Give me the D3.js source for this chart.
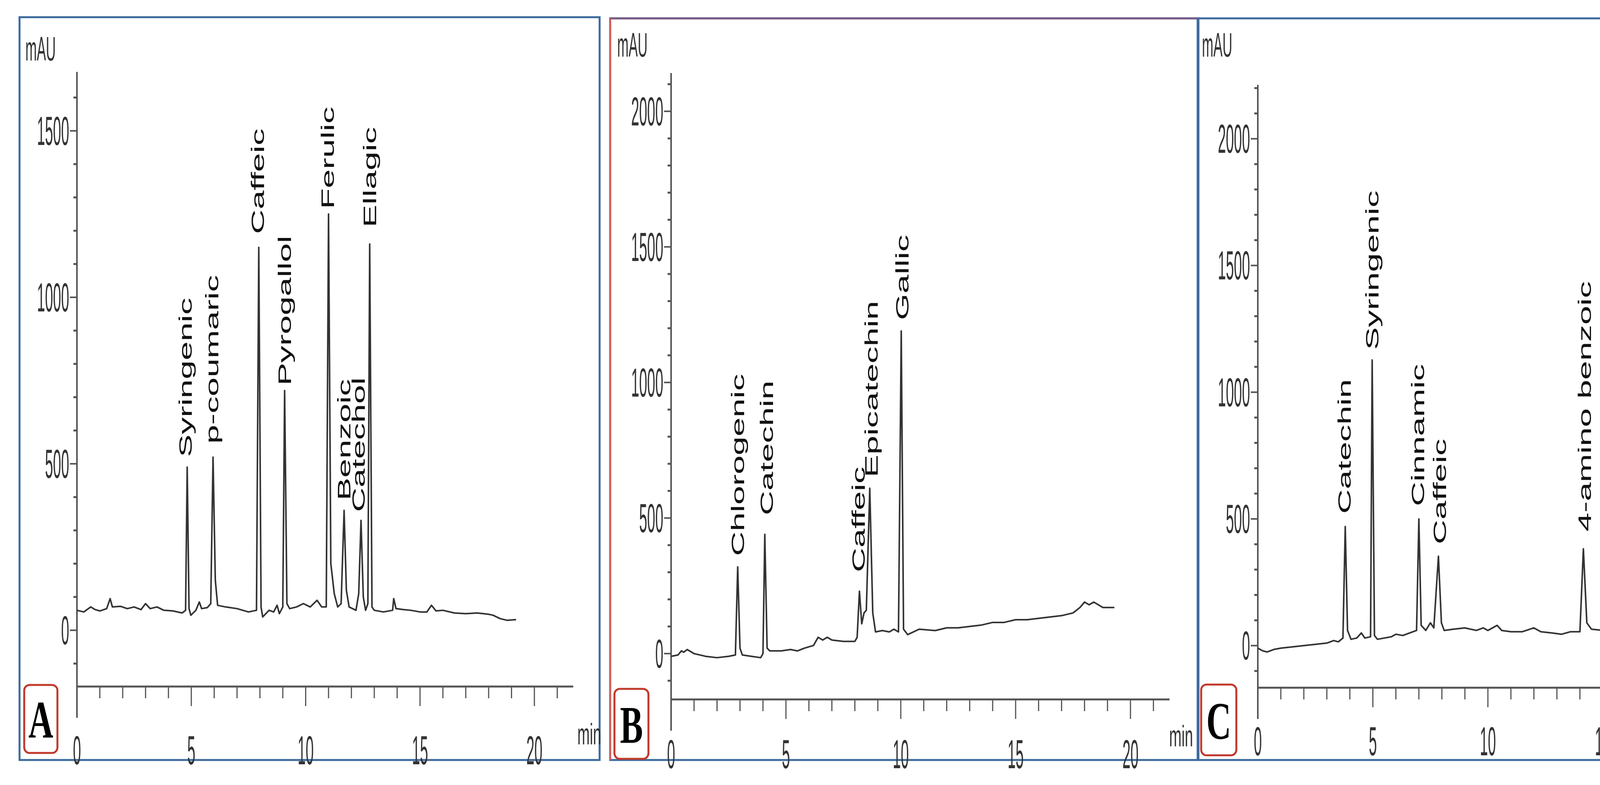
<!DOCTYPE html>
<html><head><meta charset="utf-8">
<script src="https://cdn.jsdelivr.net/npm/d3@7"></script>
<style>body{margin:0;background:#fff}</style></head>
<body><svg id="c" width="4631" height="2009"></svg>
<script>
// ---------- DATA ----------
const xTicksMajor = [0, 5, 10, 15, 20];
const panelLetters = ["A", "B", "C"];

const traceA = [[0,60],[0.3,55],[0.6,70],[0.8,62],[1.0,58],[1.3,65],[1.45,95],[1.55,70],[1.9,72],[2.2,65],[2.5,70],[2.8,62],[3.0,80],[3.2,65],[3.5,70],[3.8,60],[4.2,58],[4.6,52],[4.75,60],[4.82,490],[4.9,65],[4.98,45],[5.2,60],[5.35,85],[5.45,65],[5.7,68],[5.85,80],[5.95,520],[6.05,150],[6.15,75],[6.5,70],[7.0,65],[7.5,55],[7.85,60],[7.95,1150],[8.05,70],[8.12,40],[8.4,60],[8.6,55],[8.75,75],[8.85,50],[9.0,70],[9.08,720],[9.18,80],[9.3,65],[9.6,70],[9.9,80],[10.2,70],[10.5,90],[10.7,70],[10.9,70],[11.0,1250],[11.1,200],[11.25,110],[11.4,70],[11.55,80],[11.68,360],[11.78,120],[11.9,70],[12.2,60],[12.32,110],[12.42,330],[12.52,100],[12.62,60],[12.72,80],[12.8,1160],[12.9,70],[13.0,60],[13.4,55],[13.8,60],[13.85,95],[13.95,65],[14.3,62],[14.6,60],[15.0,55],[15.3,55],[15.5,75],[15.7,58],[16.0,60],[16.5,52],[17.0,50],[17.5,52],[18.0,48],[18.2,45],[18.5,35],[18.8,30],[19.2,32]];
const labelsA = [["Syringenic",4.78,520],["p-coumaric",5.95,560],["Caffeic",7.95,1190],["Pyrogallol",9.12,735],["Ferulic",11.0,1265],["Benzoic",11.72,390],["Catechol",12.35,355],["Ellagic",12.85,1210]];

const traceB = [[0,-10],[0.3,-5],[0.45,10],[0.55,5],[0.7,15],[1.0,0],[1.5,-10],[2.0,-15],[2.5,-10],[2.8,-5],[2.9,320],[3.0,20],[3.1,-5],[3.5,-10],[3.9,-15],[4.0,0],[4.08,440],[4.18,20],[4.3,10],[4.8,10],[5.2,15],[5.5,10],[5.8,20],[6.2,30],[6.4,60],[6.6,50],[6.8,60],[7.0,50],[7.5,45],[8.0,45],[8.1,60],[8.2,230],[8.3,110],[8.4,150],[8.5,160],[8.65,610],[8.78,150],[8.9,80],[9.2,85],[9.5,80],[9.7,90],[9.9,80],[10.02,1190],[10.12,90],[10.3,70],[10.8,90],[11.5,85],[12.0,95],[12.5,95],[13.0,100],[13.5,105],[14.0,115],[14.5,115],[15.0,125],[15.5,125],[16.0,130],[16.5,135],[17.0,140],[17.5,150],[17.8,170],[18.0,190],[18.2,180],[18.4,190],[18.8,170],[19.3,170]];
const labelsB = [["Chlorogenic",2.95,360],["Catechin",4.2,510],["Caffeic",8.2,300],["Epicatechin",8.75,650],["Gallic",10.1,1230]];

const traceC = [[0,-10],[0.2,-20],[0.4,-25],[0.7,-15],[1.0,-10],[1.5,-5],[2.0,0],[2.5,5],[3.0,10],[3.3,20],[3.5,15],[3.7,30],[3.8,470],[3.9,60],[4.05,25],[4.3,30],[4.5,50],[4.65,30],[4.9,35],[4.97,1127],[5.07,40],[5.2,25],[5.5,30],[5.8,35],[6.0,45],[6.3,40],[6.6,50],[6.9,60],[7.0,500],[7.1,80],[7.3,60],[7.5,90],[7.65,70],[7.85,353],[7.98,90],[8.1,60],[8.5,65],[9.0,70],[9.5,60],[9.8,70],[10.0,60],[10.4,80],[10.6,60],[11.0,55],[11.5,55],[12.0,70],[12.3,55],[12.8,50],[13.2,45],[13.6,55],[14.0,55],[14.15,382],[14.3,90],[14.5,65],[15.0,60],[15.5,55],[15.7,75],[15.9,55],[16.3,60],[17.0,50],[17.5,50],[18.3,45]];
const labelsC = [["Catechin",3.8,520],["Syringenic",5.0,1167],["Cinnamic",7.0,550],["Caffeic",7.95,400],["4-amino benzoic",14.25,450]];

const yTicksA = [0, 500, 1000, 1500];
const yTicksBC = [0, 500, 1000, 1500, 2000];

// ---------- LAYOUT ----------
const svg = d3.select("#c");
const panels = [
  {trace:traceA, labels:labelsA, yt:yTicksA, ydom:[-169,1677], xl:197, xr:1368, yTop:184, yBot:1757,
   frame:[50,44,1535,1945], letter:"A", box:[62,1753,85,174], mau:[65,155], min:[1478,1905], tickY:1918, xmax:21.7},
  {trace:traceB, labels:labelsB, yt:yTicksBC, ydom:[-169,2141], xl:1718, xr:2894, yTop:187, yBot:1790,
   frame:[1562,47,3066,1945], letter:"B", box:[1573,1763,87,179], mau:[1580,145], min:[2993,1910], tickY:1928, xmax:21.7},
  {trace:traceC, labels:labelsC, yt:yTicksBC, ydom:[-166,2213], xl:3220, xr:4398, yTop:217, yBot:1760,
   frame:[3068,47,4586,1945], letter:"C", box:[3075,1752,90,181], mau:[3077,145], min:[4508,1840], tickY:1895, xmax:21.6}
];

function stext(g, x, y, txt, size, sx, sy, opts={}) {
  return g.append("text").attr("transform", `translate(${x},${y}) scale(${sx},${sy})` + (opts.rot ? ` rotate(${opts.rot})` : ""))
    .attr("font-family", opts.family || "Liberation Sans, Arial, sans-serif")
    .attr("font-size", size).attr("font-weight", opts.weight || "normal")
    .attr("text-anchor", opts.anchor || "start").attr("fill", opts.fill || "#222").text(txt);
}

panels.forEach((p, i) => {
  const g = svg.append("g");
  const [fx0, fy0, fx1, fy1] = p.frame;
  g.append("rect").attr("x", fx0).attr("y", fy0).attr("width", fx1 - fx0).attr("height", fy1 - fy0)
    .attr("fill", "#fff").attr("stroke", "#3b6a9c").attr("stroke-width", 5);
  if (i === 1) {
    g.append("line").attr("x1", fx0).attr("x2", fx1).attr("y1", fy0).attr("y2", fy0).attr("stroke", "#7a5a86").attr("stroke-width", 5);
    g.append("line").attr("x1", fx0).attr("x2", fx0).attr("y1", fy0).attr("y2", fy1).attr("stroke", "#e0554e").attr("stroke-width", 4);
  }
  const x = d3.scaleLinear().domain([0, 20]).range([p.xl, p.xr]);
  const y = d3.scaleLinear().domain(p.ydom).range([p.yBot, p.yTop]);
  const col = "#555";

  // y axis
  g.append("line").attr("x1", p.xl).attr("x2", p.xl).attr("y1", p.yTop).attr("y2", p.yBot + 80).attr("stroke", col).attr("stroke-width", 4);
  d3.range(-100, p.ydom[1], 100).forEach(v => {
    const major = v % 500 === 0;
    g.append("line").attr("x1", p.xl - (major ? 18 : 9)).attr("x2", p.xl).attr("y1", y(v)).attr("y2", y(v))
      .attr("stroke", col).attr("stroke-width", major ? 4 : 5);
  });
  p.yt.forEach(v => stext(g, p.xl - 20, y(v) + 36, String(v), 37, 1, 2.8, {anchor:"end", fill:"#333"}));

  // x axis
  g.append("line").attr("x1", p.xl).attr("x2", x(p.xmax)).attr("y1", p.yBot).attr("y2", p.yBot).attr("stroke", col).attr("stroke-width", 5);
  d3.range(1, 22, 1).forEach(v => {
    const major = v % 5 === 0;
    g.append("line").attr("x1", x(v)).attr("x2", x(v)).attr("y1", p.yBot).attr("y2", p.yBot + (major ? 50 : 30)).attr("stroke", col).attr("stroke-width", 3);
  });
  xTicksMajor.forEach(v => stext(g, x(v), p.tickY + 38, String(v), 37, 1, 2.8, {anchor:"middle", fill:"#333"}));
  stext(g, p.min[0], p.min[1], "min", 38, 1, 2.0, {fill:"#333"});
  stext(g, p.mau[0], p.mau[1], "mAU", 35, 1, 2.5, {fill:"#333"});

  // trace
  g.append("path").datum(p.trace).attr("fill", "none").attr("stroke", "#333").attr("stroke-width", 4)
    .attr("stroke-linejoin", "round")
    .attr("d", d3.line().x(d => x(d[0])).y(d => y(d[1])));

  // peak labels
  p.labels.forEach(([name, t, h]) => {
    stext(g, x(t) + 14, y(h), name, 46, 1, 1.9, {rot:-90, fill:"#111"});
  });

  // letter box
  const [bx, by, bw, bh] = p.box;
  g.append("rect").attr("x", bx).attr("y", by).attr("width", bw).attr("height", bh).attr("rx", 14)
    .attr("fill", "#fff").attr("stroke", "#c0392b").attr("stroke-width", 5);
  stext(g, bx + bw / 2, by + bh / 2 + 48, p.letter, 88, 1, 1.55, {anchor:"middle", family:"Liberation Serif, Times New Roman, serif", weight:"bold", fill:"#000"});
});
</script></body></html>
